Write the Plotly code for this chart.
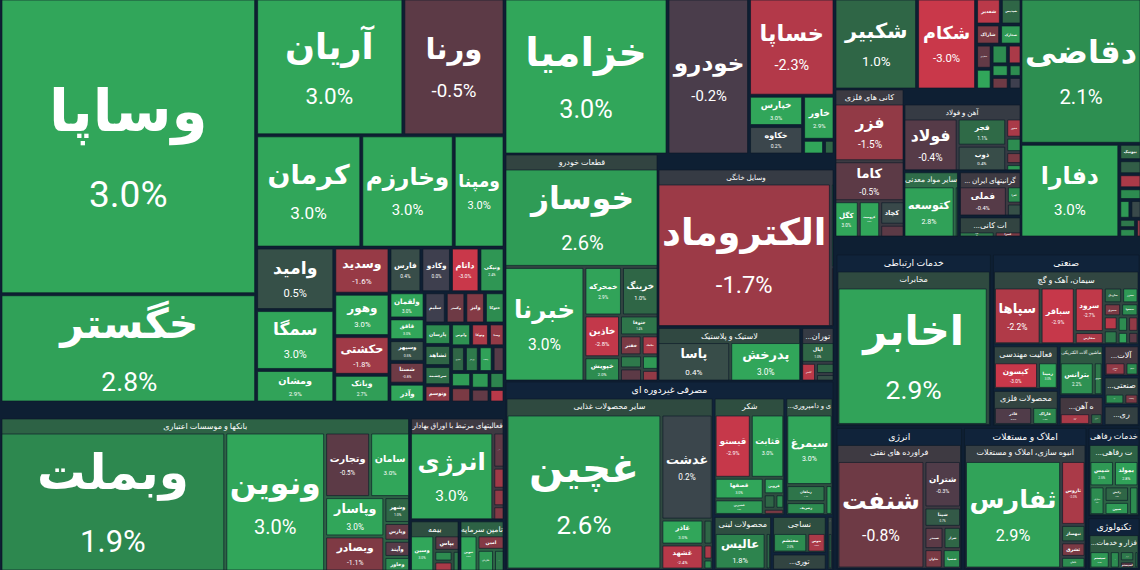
import numpy as np
import plotly.graph_objects as go

# ---------------- data (values ~ market weight, change in %) ----------------
INV_NAMES = ["وساپا","خگستر","آریان","ورنا","کرمان","وخارزم","ومپنا","وامید","سمگا","ومشان",
             "وسدید","وهور","حکشتی","وبانک","فارس","وکادو","داتام","ونیکی","ولقمان","قاقق",
             "وسپهر","شستا","وآذر","سلیم","وگستر","ولیز","حتوکا","پارسان","ثشاهد","سرچشمه",
             "وتوسم","وآتوس","وصنا","حپترو","وبوعلی","وساخت","وتوکا","ورنیر","وسکاب","ولساپا",
             "وسینا","وجامی","ومعادن","وثوق"]
INV_VALUES = [74.3,27.2,19.8,13.6,11.6,10.2,5.6,4.8,4.6,2.5,
              2.5,2.3,2.1,1.5,1.4,1.3,1.25,1.1,0.9,0.75,
              0.75,0.75,0.65,0.65,0.6,0.6,0.6,0.56,0.55,0.5,
              0.45,0.45,0.35,0.35,0.3,0.3,0.4,0.35,0.35,0.3,
              0.3,0.25,0.25,0.2]
INV_CHANGE = [3.0,2.8,3.0,-0.5,3.0,3.0,3.0,0.5,3.0,2.9,
              -1.6,3.0,-1.8,2.7,0.4,0.0,-3.0,2.4,3.0,3.0,
              0.5,-0.8,3.0,0.0,-0.8,-1.2,2.0,2.0,1.0,1.2,
              -1.5,2.2,-1.5,1.0,-0.4,2.6,-2.0,1.5,2.8,-1.0,
              2.5,-0.6,1.8,-2.5]

FIN_GROUPS = ["بانکها و موسسات اعتباری","فعالیتهای مرتبط با اوراق بهادار","بیمه","تامین سرمایه"]
FIN_GROUP_PARENTS = ["","","",""]
FIN_GROUP_CHANGE = [2.0,-0.3,1.0,2.0]
FIN_NAMES = ["وبملت","ونوین","وتجارت","سامان","وپاسار","وبصادر","وشهر","وپارس","وآیند","وخاور",
             "انرژی","آتیمس","اهرم","آوا","توان",
             "وسین","بپاس","البرز","اتکای","بساما",
             "تنوین","امین","تکاردان","تملت"]
FIN_PARENTS = ["بانکها و موسسات اعتباری"]*10 + ["فعالیتهای مرتبط با اوراق بهادار"]*5 + ["بیمه"]*5 + ["تامین سرمایه"]*4
FIN_VALUES = [37.6,16.7,3.5,3.1,2.8,2.5,0.8,0.55,0.5,0.45,
              9.3,0.5,0.3,0.25,0.2,
              1.35,0.6,0.3,0.28,0.22,
              1.0,0.6,0.55,0.35]
FIN_CHANGE = [1.9,3.0,-0.5,3.0,3.0,-1.1,1.0,-0.6,-0.4,2.0,
              3.0,-0.6,-1.8,-1.5,-1.2,
              3.0,-0.5,2.0,-2.0,1.5,
              3.0,-1.2,2.5,1.5]

CAR_NAMES = ["خزامیا","خودرو","خساپا","خپارس","خکاوه","خاور","خمحور","خموتور"]
CAR_VALUES = [24.8,12.4,8.1,1.6,1.5,1.35,0.3,0.15]
CAR_CHANGE = [3.0,-0.2,-2.3,3.0,0.2,2.9,3.0,1.0]

PART_GROUPS = ["قطعات خودرو"]
PART_GROUP_PARENTS = [""]
PART_GROUP_CHANGE = [0.5]
PART_NAMES = ["خوساز","خبرنا","خمحرکه","خرینگ","خاذین","خپویش","ختوقا","خفنر","خکمک","خشرق","خمهر","خچرخش","خریخت"]
PART_PARENTS = ["قطعات خودرو"]*13
PART_VALUES = [15.8,9.55,1.9,1.85,1.55,0.9,0.8,0.45,0.35,0.3,0.3,0.25,0.2]
PART_CHANGE = [2.6,3.0,2.9,1.0,-2.8,2.0,1.4,-1.0,-2.0,1.5,-0.5,2.5,-1.5]

HOME_GROUPS = ["وسایل خانگی","لاستیک و پلاستیک","...توران"]
HOME_GROUP_PARENTS = ["","",""]
HOME_GROUP_CHANGE = [0.0,0.7,0.0]
HOME_NAMES = ["الکتروماد","لابسا","لخزر","پاسا","پدرخش","اپال","گکیش","گشان","گدنا"]
HOME_PARENTS = ["وسایل خانگی"]*3 + ["لاستیک و پلاستیک"]*2 + ["...توران"]*4
HOME_VALUES = [28.8,0.35,0.25,4.15,4.05,1.0,0.4,0.3,0.2]
HOME_CHANGE = [-1.7,3.0,-1.0,0.4,3.0,1.0,-2.5,1.0,0.5]

STAPLE_GROUPS = ["مصرفی غیردوره ای","سایر محصولات غذایی","شکر","...ی و دامپروری","محصولات لبنی","نساجی","...توری","...بهداشتی"]
STAPLE_GROUP_PARENTS = ["","مصرفی غیردوره ای","مصرفی غیردوره ای","مصرفی غیردوره ای","مصرفی غیردوره ای",
                        "مصرفی غیردوره ای","مصرفی غیردوره ای","مصرفی غیردوره ای"]
STAPLE_GROUP_CHANGE = [0.0,0.8,1.0,1.0,1.0,1.0,0.5,0.5]
STAPLE_NAMES = ["غچین","غدشت","غاذر","غشهد","غنوش","غپینو","غگل",
                "قیستو","قثابت","قصفها","قشیرین","قزوین","قشکر","قلرست","قمرو",
                "سیمرغ","زماهان","زشریف","زقیام",
                "عالیس","غپاک","محتشم","نتوس","پخش","شپاکسا"]
STAPLE_PARENTS = ["سایر محصولات غذایی"]*7 + ["شکر"]*8 + ["...ی و دامپروری"]*4 + \
                 ["محصولات لبنی"]*2 + ["نساجی"]*2 + ["...توری"] + ["...بهداشتی"]
STAPLE_VALUES = [26.3,5.9,1.15,1.15,0.25,0.15,0.1,
                 2.7,2.5,1.25,0.9,0.4,0.2,0.15,0.15,
                 3.9,0.8,0.6,0.25,
                 2.8,0.3,1.3,0.7,0.9,0.36]
STAPLE_CHANGE = [2.6,0.2,3.0,-2.4,1.0,-2.0,2.0,
                 -2.9,3.0,3.0,2.5,2.8,1.0,2.0,-1.0,
                 3.0,1.4,2.0,2.5,
                 1.8,1.0,2.0,-2.0,2.0,1.0]

CHEM_NAMES = ["شکبیر","شکام","شغدیر","شپدیس","شاراک","شخارک","شفارس","شجم","شسینا","شیران","شرانل","شلعاب","شصدف","شگل"]
CHEM_VALUES = [7.0,5.0,0.6,0.5,0.45,0.4,0.35,0.3,0.3,0.25,0.2,0.2,0.15,0.15]
CHEM_CHANGE = [1.0,-3.0,-2.5,1.0,-1.0,2.5,-0.6,3.0,2.0,-2.0,2.5,-0.8,2.0,0.0]

ORE_GROUPS = ["کانی های فلزی"]
ORE_GROUP_PARENTS = [""]
ORE_GROUP_CHANGE = [-0.2]
ORE_NAMES = ["فزر","کاما","کگل","کرومیت","کچاد","کنور"]
ORE_PARENTS = ["کانی های فلزی"]*6
ORE_VALUES = [3.9,2.7,0.85,0.75,0.55,0.3]
ORE_CHANGE = [-1.5,-0.5,3.0,3.0,0.3,-0.5]

METAL_GROUPS = ["آهن و فولاد","سایر مواد معدنی","... گرانیتهای ایران","...ات کانی"]
METAL_GROUP_PARENTS = ["","","",""]
METAL_GROUP_CHANGE = [0.0,2.8,-0.3,0.5]
METAL_NAMES = ["فولاد","فجر","ذوب","فخوز","فاسمین","هرمز","فسپا","کتوسعه","کمرجان","فملی","کفرا","کساوه","کلوند","کسرا"]
METAL_PARENTS = ["آهن و فولاد"]*7 + ["سایر مواد معدنی"]*2 + ["... گرانیتهای ایران"]*3 + ["...ات کانی"]*2
METAL_VALUES = [3.9,1.8,1.7,0.4,0.3,0.25,0.15,3.6,0.3,2.3,0.4,0.3,0.8,0.6]
METAL_CHANGE = [-0.4,1.1,0.4,-2.0,2.0,-1.0,2.5,2.8,1.0,-0.4,2.0,0.5,1.5,-1.0]

PHARMA_NAMES = ["دقاضی","دفارا","بیونیک","دزاگرس","دالبر","دلر","دکوثر","دامین","دسینا","دتولید","دشیمی"]
PHARMA_VALUES = [16.9,8.9,0.35,0.3,0.3,0.25,0.2,0.2,0.15,0.15,0.1]
PHARMA_CHANGE = [2.1,3.0,1.0,0.8,-2.0,2.0,2.5,0.3,1.5,2.0,-1.5]

BR_GROUPS = ["خدمات ارتباطی","صنعتی","انرژی","املاک و مستغلات","خدمات رفاهی","تکنولوژی",
             "مخابرات","سیمان، آهک و گچ","فعالیت مهندسی","محصولات فلزی","...ه آهن",
             "ماشین آلات الکتریکی","...آلات","...ری","...صنعتی",
             "فراورده های نفتی","انبوه سازی، املاک و مستغلات","...ت رفاهی","...فزار و خدمات"]
BR_GROUP_PARENTS = ["","","","","","",
                    "خدمات ارتباطی","صنعتی","صنعتی","صنعتی","صنعتی",
                    "صنعتی","صنعتی","صنعتی","صنعتی",
                    "انرژی","املاک و مستغلات","خدمات رفاهی","تکنولوژی"]
BR_GROUP_CHANGE = [0,0,0,0,0,0, 0.8,0.6,0.5,0.5,-0.5, 1.5,-0.5,0.3,0.5, -0.3,0.2,2.0,1.5]
BR_NAMES = ["اخابر","رتاپ",
            "سپاها","سباقر","سرود","سفارس","ساربیل","سخزر","سشرق","سصفها","سبهان","سکرما","سهگمت","سدور","سغرب","ستران",
            "کیسون","رمپنا","فاذر","فاراک","حریل","حآفرین","بترانس","بموتو","تپمپی","تیپیکو","حسینا","حتاید","کارا","وصنعت",
            "شنفت","شتران","شپنا","شبندر","شراز","شاوان","شسپا",
            "ثفارس","ثاروس","ثبهساز","ثشرق","ثامان",
            "شمس","بمولد","مداران","رکیش","مبین","ساینا",
            "سیستم","مفاخر","اپرداز","اسیستم","رایان"]
BR_PARENTS = ["مخابرات"]*2 + ["سیمان، آهک و گچ"]*14 + \
             ["فعالیت مهندسی"]*2 + ["محصولات فلزی"]*2 + ["...ه آهن"]*2 + ["ماشین آلات الکتریکی"]*2 + \
             ["...آلات"]*2 + ["...ری"]*2 + ["...صنعتی"]*2 + \
             ["فراورده های نفتی"]*7 + ["انبوه سازی، املاک و مستغلات"]*5 + ["...ت رفاهی"]*6 + ["...فزار و خدمات"]*5
BR_VALUES = [27.4,0.4,
             4.1,3.0,2.0,0.55,0.45,0.4,0.35,0.35,0.3,0.3,0.25,0.25,0.2,0.2,
             2.35,1.05,1.65,1.1,1.1,0.45,2.1,0.55,0.8,0.5,0.5,0.35,0.7,0.5,
             13.2,2.4,1.0,0.6,0.55,0.5,0.5,
             14.6,2.2,0.6,0.5,0.4,
             1.15,1.15,0.8,0.7,0.6,0.5,
             1.2,0.6,0.5,0.35,0.25]
BR_CHANGE = [2.9,-0.5,
             -2.2,-2.9,-2.7,-2.0,1.0,2.5,-1.0,2.0,-2.5,1.5,2.0,-1.5,2.8,-0.5,
             -3.0,3.0,-0.3,1.9,-2.0,1.0,2.2,1.5,-1.5,2.0,2.5,-1.0,2.0,-1.0,
             -0.8,-0.3,0.7,-0.5,1.0,-1.0,2.0,
             2.9,-2.0,1.0,-1.0,2.0,
             2.5,2.8,2.0,1.0,2.5,2.0,
             2.5,2.0,1.5,-0.5,2.0]

# ---------------- style ----------------
W, H = 1140, 570
BG = "#0e1f33"
TOP_COLOR = "#10233a"
HEADER_BASE = (45, 55, 58)
FONT = "Roboto, 'DejaVu Sans', sans-serif"
CHANGE_STOPS = [-3, -2, -1, -0.5, 0, 0.5, 1, 2, 3]
STOP_RGB = [(201, 56, 74), (170, 58, 72), (122, 58, 68), (92, 58, 70), (62, 63, 78),
            (54, 80, 72), (47, 102, 70), (45, 140, 80), (49, 166, 90)]


def change_rgb(v):
    v = max(-3.0, min(3.0, v))
    return [float(np.interp(v, CHANGE_STOPS, [c[i] for c in STOP_RGB])) for i in range(3)]


def rgb_str(rgb):
    return "rgb(%d,%d,%d)" % tuple(int(round(x)) for x in rgb)


def header_color(v):
    c = change_rgb(v)
    return rgb_str([0.5 * a + 0.5 * b for a, b in zip(c, HEADER_BASE)])


def make_trace(box, names, values, change, parents=None, groups=(), group_parents=(), group_change=(),
               ratio=1.0, pad_t=17, pad_side=0):
    if parents is None:
        parents = [""] * len(names)
    ids, labels, pars, vals, colors, tmpl, sizes, cdata = [], [], [], [], [], [], [], []
    for g, p, gc in zip(groups, group_parents, group_change):
        top = any(gp == g for gp in group_parents)
        ids.append(g); labels.append(g); pars.append(p); vals.append(0)
        colors.append(TOP_COLOR if top else header_color(gc))
        tmpl.append("<b>%{label}</b>" if top else "%{label}")
        sizes.append(11 if top else 8)
        cdata.append("")
    for n, p, v, c in zip(names, parents, values, change):
        ids.append(n); labels.append(n); pars.append(p); vals.append(v)
        colors.append(rgb_str(change_rgb(c)))
        s = min(58.0, max(7.0, 0.25 * np.sqrt(v * 1000.0)))
        ps = round(s * 0.64, 1)
        if v >= 0.7:
            tmpl.append("<b>%{label}</b><br><span style='font-size:" + str(ps) + "px'>%{customdata}</span>")
        elif v >= 0.33:
            tmpl.append("<b>%{label}</b>")
        else:
            tmpl.append("")
        sizes.append(round(s, 1))
        cdata.append("%.1f%%" % c)
    x0, y0, x1, y1 = box
    return go.Treemap(
        ids=ids, labels=labels, parents=pars, values=vals,
        branchvalues="remainder", sort=True,
        customdata=cdata, texttemplate=tmpl, textposition="middle center",
        textfont=dict(family=FONT, color="white", size=sizes),
        insidetextfont=dict(family=FONT, color="white", size=sizes),
        outsidetextfont=dict(family=FONT, color="white", size=sizes),
        marker=dict(colors=colors, line=dict(width=1, color="rgba(12,26,40,0.65)"),
                    pad=dict(t=pad_t, l=pad_side, r=pad_side, b=pad_side), depthfade=False),
        root=dict(color=BG),
        tiling=dict(packing="squarify", squarifyratio=ratio),
        pathbar=dict(visible=False),
        hoverinfo="skip",
        domain=dict(x=[x0 / W, x1 / W], y=[1 - y1 / H, 1 - y0 / H]),
    )


# section panels (pixel boxes of the page layout)
PANELS = {
    "inv": (2, 0, 503, 401), "fin": (2, 404, 503, 570),
    "car": (506, 0, 833, 153), "part": (506, 155, 657, 380), "home": (659, 155, 833, 380),
    "staple": (506, 382, 833, 570),
    "chem": (836, 0, 1020, 88), "ore": (836, 90, 903, 236), "metal": (905, 90, 1020, 236),
    "pharma": (1022, 0, 1140, 236), "br": (836, 238, 1140, 570),
}
PHI = 1.618

fig = go.Figure()
fig.add_trace(make_trace(PANELS["inv"], INV_NAMES, INV_VALUES, INV_CHANGE, ratio=PHI, pad_t=0))
fig.add_trace(make_trace(PANELS["fin"], FIN_NAMES, FIN_VALUES, FIN_CHANGE, FIN_PARENTS,
                         FIN_GROUPS, FIN_GROUP_PARENTS, FIN_GROUP_CHANGE, pad_t=15))
fig.add_trace(make_trace(PANELS["car"], CAR_NAMES, CAR_VALUES, CAR_CHANGE, pad_t=0))
fig.add_trace(make_trace(PANELS["part"], PART_NAMES, PART_VALUES, PART_CHANGE, PART_PARENTS,
                         PART_GROUPS, PART_GROUP_PARENTS, PART_GROUP_CHANGE, pad_t=15))
fig.add_trace(make_trace(PANELS["home"], HOME_NAMES, HOME_VALUES, HOME_CHANGE, HOME_PARENTS,
                         HOME_GROUPS, HOME_GROUP_PARENTS, HOME_GROUP_CHANGE, pad_t=15))
fig.add_trace(make_trace(PANELS["staple"], STAPLE_NAMES, STAPLE_VALUES, STAPLE_CHANGE, STAPLE_PARENTS,
                         STAPLE_GROUPS, STAPLE_GROUP_PARENTS, STAPLE_GROUP_CHANGE, ratio=PHI, pad_t=17, pad_side=1))
fig.add_trace(make_trace(PANELS["chem"], CHEM_NAMES, CHEM_VALUES, CHEM_CHANGE, pad_t=0))
fig.add_trace(make_trace(PANELS["ore"], ORE_NAMES, ORE_VALUES, ORE_CHANGE, ORE_PARENTS,
                         ORE_GROUPS, ORE_GROUP_PARENTS, ORE_GROUP_CHANGE, pad_t=15))
fig.add_trace(make_trace(PANELS["metal"], METAL_NAMES, METAL_VALUES, METAL_CHANGE, METAL_PARENTS,
                         METAL_GROUPS, METAL_GROUP_PARENTS, METAL_GROUP_CHANGE, pad_t=15))
fig.add_trace(make_trace(PANELS["pharma"], PHARMA_NAMES, PHARMA_VALUES, PHARMA_CHANGE, pad_t=0))
fig.add_trace(make_trace(PANELS["br"], BR_NAMES, BR_VALUES, BR_CHANGE, BR_PARENTS,
                         BR_GROUPS, BR_GROUP_PARENTS, BR_GROUP_CHANGE, pad_t=17, pad_side=1))

fig.update_layout(width=W, height=H, margin=dict(l=0, r=0, t=0, b=0),
                  paper_bgcolor=BG, plot_bgcolor=BG, showlegend=False, hovermode=False,
                  font=dict(family=FONT, color="white"))
fig.write_html("out.html")
